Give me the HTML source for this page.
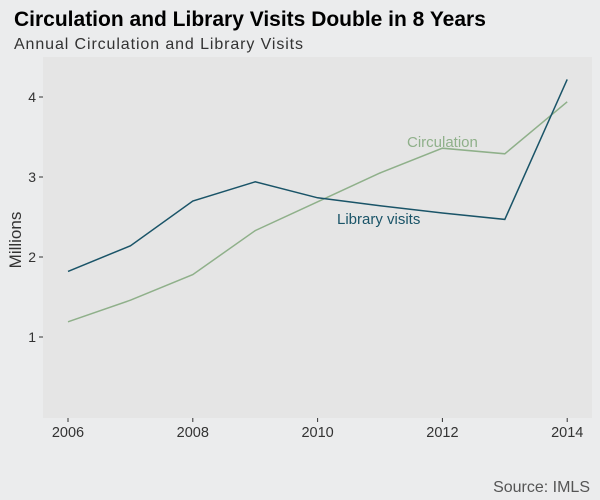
<!DOCTYPE html>
<html><head><meta charset="utf-8"><style>
body{margin:0;background:#ebeced;font-family:"Liberation Sans",sans-serif;}
svg{display:block}
</style></head><body>
<svg width="600" height="500">
<rect width="600" height="500" fill="#ebeced"/>
<text x="14" y="26" font-size="21" font-weight="bold" fill="#000">Circulation and Library Visits Double in 8 Years</text>
<text x="14" y="49" font-size="16" fill="#333" textLength="289">Annual Circulation and Library Visits</text>
<rect x="43" y="57" width="549" height="361" fill="#e5e5e5"/>
<g id="axes"></g>
<g id="series"></g>
<text x="21" y="240" font-size="17" fill="#333" text-anchor="middle" transform="rotate(-90 21 240)">Millions</text>
<text x="590" y="492" font-size="16" fill="#555" text-anchor="end">Source: IMLS</text>
</svg>
<script>
const years=[2006,2007,2008,2009,2010,2011,2012,2013,2014];
const visits=[1.82,2.14,2.70,2.94,2.74,2.64,2.55,2.47,4.22];
const circulation=[1.19,1.46,1.78,2.33,2.69,3.05,3.36,3.29,3.94];
const yTicks=[1,2,3,4];
const xTicks=[2006,2008,2010,2012,2014];
const NS="http://www.w3.org/2000/svg";
const x=v=>68+(v-2006)*62.4;
const y=v=>417-v*80;
function mk(t,a,p){const e=document.createElementNS(NS,t);for(const k in a)e.setAttribute(k,a[k]);p.appendChild(e);return e;}
const ax=document.getElementById('axes'),sr=document.getElementById('series');
yTicks.forEach(v=>{
 const l=mk('line',{x1:39,x2:43,y1:y(v),y2:y(v),stroke:'#333'},ax);
 
 
 const t=mk('text',{x:36,y:y(v)+5,'font-size':14,fill:'#333','text-anchor':'end'},ax);
 t.textContent=v;
 
 
});
xTicks.forEach(v=>{
 const l=mk('line',{x1:x(v),x2:x(v),y1:418,y2:422,stroke:'#333'},ax);
 
 
 const t=mk('text',{x:x(v),y:437,'font-size':14.5,fill:'#333','text-anchor':'middle'},ax);
 t.textContent=v;
 
 
});
function line(vals,col,name){
 const p=mk('polyline',{points:vals.map((v,i)=>x(years[i])+','+y(v)).join(' '),fill:'none',stroke:col,'stroke-width':1.5},sr);
 
 
}
line(circulation,'#8fb08a','circulation-line');
line(visits,'#1a5468','library-visits-line');
const c=mk('text',{x:407,y:147,'font-size':15,fill:'#8fb08a'},sr);
c.textContent='Circulation';


const lv=mk('text',{x:337,y:224,'font-size':15,fill:'#1a5468'},sr);
lv.textContent='Library visits';


</script>
</body></html>
